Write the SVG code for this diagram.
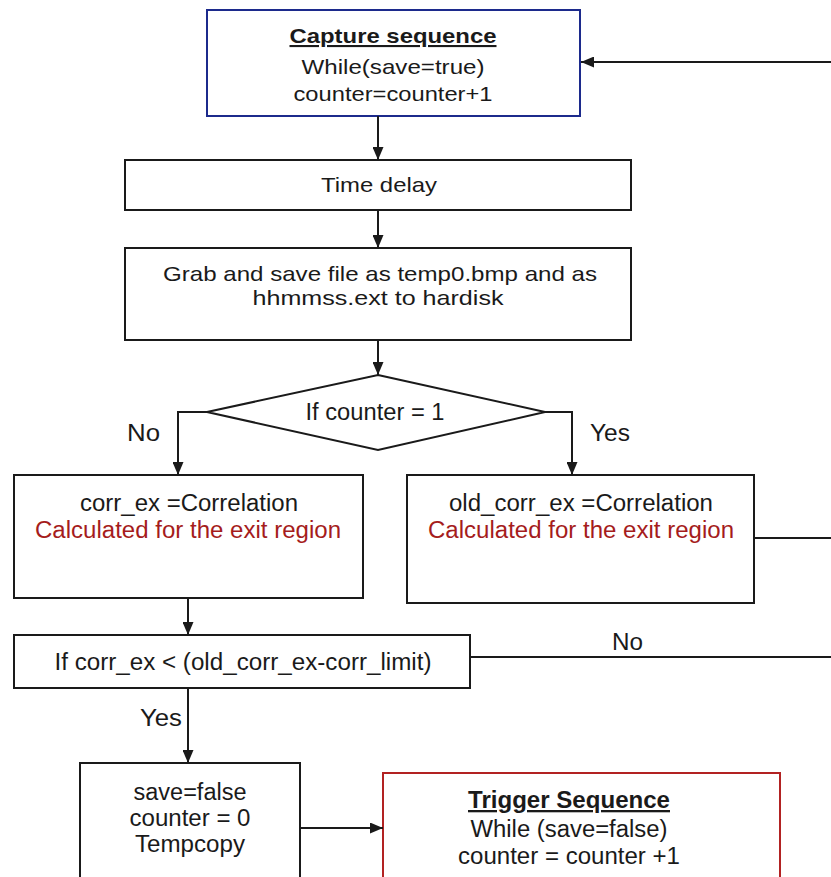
<svg xmlns="http://www.w3.org/2000/svg" width="831" height="877" viewBox="0 0 831 877">
  <style>
    .box { fill: #ffffff; stroke: #1a1a1a; stroke-width: 2; }
    .blue { stroke: #1c2a8c; }
    .red { stroke: #b22222; }
    .t { font-family: "Liberation Sans", Arial, sans-serif; font-size: 21px; fill: #1a1a1a; text-anchor: middle; }
    .n { font-size: 23px; }
    .b { font-weight: bold; text-decoration: underline; }
    .r { fill: #a51c1c; }
    .lbl { font-family: "Liberation Sans", Arial, sans-serif; font-size: 23px; fill: #1a1a1a; }
    .edge { fill: none; stroke: #1a1a1a; stroke-width: 2; }
  </style>
  <defs>
    <marker id="arrow" viewBox="0 0 13 11" refX="13" refY="5.5" markerWidth="13" markerHeight="11" markerUnits="userSpaceOnUse" orient="auto">
      <path d="M0,0 L13,5.5 L0,11 Z" fill="#1a1a1a"/>
    </marker>
  </defs>
  <rect width="831" height="877" fill="#ffffff"/>

  <g id="capture">
    <rect class="box blue" x="207" y="10" width="373" height="106"/>
    <text class="t b" x="393" y="43" textLength="207" lengthAdjust="spacingAndGlyphs">Capture sequence</text>
    <text class="t" x="393" y="74" textLength="183" lengthAdjust="spacingAndGlyphs">While(save=true)</text>
    <text class="t" x="393" y="101" textLength="199" lengthAdjust="spacingAndGlyphs">counter=counter+1</text>
  </g>

  <g id="delay">
    <rect class="box" x="125" y="160" width="506" height="50"/>
    <text class="t" x="379" y="192" textLength="116" lengthAdjust="spacingAndGlyphs">Time delay</text>
  </g>

  <g id="grab">
    <rect class="box" x="125" y="248" width="506" height="92"/>
    <text class="t" x="380" y="281" textLength="434" lengthAdjust="spacingAndGlyphs">Grab and save file as temp0.bmp and as</text>
    <text class="t" x="378" y="305" textLength="251" lengthAdjust="spacingAndGlyphs">hhmmss.ext to hardisk</text>
  </g>

  <g id="check-counter">
    <polygon class="box" points="378,375 545,412 378,450 207,412"/>
    <text class="t n" x="375" y="420" textLength="139" lengthAdjust="spacingAndGlyphs">If counter = 1</text>
  </g>

  <g id="corr">
    <rect class="box" x="14" y="475" width="349" height="123"/>
    <text class="t n" x="189" y="511" textLength="218" lengthAdjust="spacingAndGlyphs">corr_ex =Correlation</text>
    <text class="t n r" x="188" y="538" textLength="306" lengthAdjust="spacingAndGlyphs">Calculated for the exit region</text>
  </g>

  <g id="old-corr">
    <rect class="box" x="407" y="475" width="347" height="128"/>
    <text class="t n" x="581" y="511" textLength="264" lengthAdjust="spacingAndGlyphs">old_corr_ex =Correlation</text>
    <text class="t n r" x="581" y="538" textLength="306" lengthAdjust="spacingAndGlyphs">Calculated for the exit region</text>
  </g>

  <g id="compare">
    <rect class="box" x="14" y="635" width="456" height="53"/>
    <text class="t n" x="243" y="670" textLength="377" lengthAdjust="spacingAndGlyphs">If corr_ex &lt; (old_corr_ex-corr_limit)</text>
  </g>

  <g id="reset">
    <rect class="box" x="80" y="763" width="220" height="130"/>
    <text class="t n" x="190" y="800" textLength="113" lengthAdjust="spacingAndGlyphs">save=false</text>
    <text class="t n" x="190" y="826" textLength="121" lengthAdjust="spacingAndGlyphs">counter = 0</text>
    <text class="t n" x="190" y="852" textLength="110" lengthAdjust="spacingAndGlyphs">Tempcopy</text>
  </g>

  <g id="trigger">
    <rect class="box red" x="383" y="773" width="397" height="120"/>
    <text class="t n b" x="569" y="808" textLength="202" lengthAdjust="spacingAndGlyphs">Trigger Sequence</text>
    <text class="t n" x="569" y="837" textLength="197" lengthAdjust="spacingAndGlyphs">While (save=false)</text>
    <text class="t n" x="569" y="864" textLength="222" lengthAdjust="spacingAndGlyphs">counter = counter +1</text>
  </g>

  <g id="connectors">
    <path class="edge" d="M831,62 L581,62" marker-end="url(#arrow)"/>
    <path class="edge" d="M378,116 L378,160" marker-end="url(#arrow)"/>
    <path class="edge" d="M378,210 L378,248" marker-end="url(#arrow)"/>
    <path class="edge" d="M378,340 L378,375" marker-end="url(#arrow)"/>
    <path class="edge" d="M207,412 L178,412 L178,475" marker-end="url(#arrow)"/>
    <path class="edge" d="M545,412 L572,412 L572,475" marker-end="url(#arrow)"/>
    <path class="edge" d="M754,538 L831,538"/>
    <path class="edge" d="M188,598 L188,635" marker-end="url(#arrow)"/>
    <path class="edge" d="M470,657 L831,657"/>
    <path class="edge" d="M188,688 L188,763" marker-end="url(#arrow)"/>
    <path class="edge" d="M300,828 L383,828" marker-end="url(#arrow)"/>
    <text class="lbl" x="127" y="441" textLength="33" lengthAdjust="spacingAndGlyphs">No</text>
    <text class="lbl" x="590" y="441" textLength="40" lengthAdjust="spacingAndGlyphs">Yes</text>
    <text class="lbl" x="612" y="650" textLength="31" lengthAdjust="spacingAndGlyphs">No</text>
    <text class="lbl" x="140" y="726" textLength="42" lengthAdjust="spacingAndGlyphs">Yes</text>
  </g>
</svg>
